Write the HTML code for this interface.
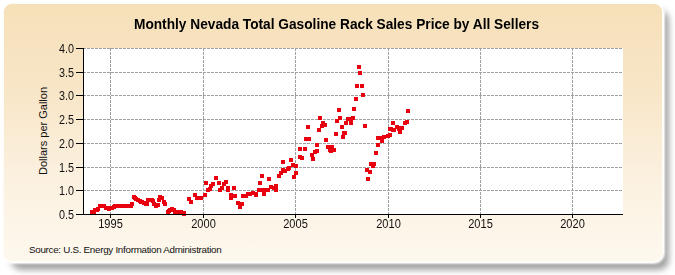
<!DOCTYPE html>
<html><head><meta charset="utf-8"><style>
html,body{margin:0;padding:0;background:#fff;width:675px;height:275px;overflow:hidden;position:relative;font-family:"Liberation Sans",sans-serif}
#shadow{position:absolute;left:11px;top:10px;width:658px;height:260px;border-radius:10px;background:rgba(0,0,0,0.36);filter:blur(3.2px)}
#panel{position:absolute;left:2px;top:2px;width:658px;height:257px;border-radius:10px;border:2px solid #FEFDF9;box-shadow:0 0 2px 1px rgba(255,255,255,0.85);
 background:linear-gradient(to bottom,#F6E0B8 0%,#F8E6C8 35%,#FBF0DE 65%,#FDF8EE 100%);}
#title{position:absolute;left:-1px;width:675px;top:15px;text-align:center;font-weight:bold;font-size:15.2px;transform:scaleX(0.902);color:#000;white-space:nowrap}
svg{position:absolute;left:0;top:0}
.g{stroke:#A0A0A0;stroke-width:1;stroke-dasharray:3 1}
.a{stroke:#000;stroke-width:1}
.yl{position:absolute;left:40px;width:34px;text-align:right;font-size:12px;color:#111;line-height:14px;transform:scaleX(0.9);transform-origin:100% 50%}
.xl{position:absolute;top:217px;width:41px;text-align:center;font-size:12px;color:#111;line-height:14px;transform:scaleX(0.92)}
#ylab{position:absolute;left:0;top:0;font-size:11px;color:#111;white-space:nowrap;transform-origin:0 0;}
#src{position:absolute;left:29px;top:243.5px;font-size:9.8px;color:#111;white-space:nowrap;letter-spacing:-0.28px}
</style></head><body>
<div id="shadow"></div><div id="panel"></div>
<div id="title">Monthly Nevada Total Gasoline Rack Sales Price by All Sellers</div>
<svg width="675" height="275" shape-rendering="crispEdges">
<rect x="84" y="48" width="539" height="166" fill="#fff"/>
<line x1="84" y1="48.5" x2="623" y2="48.5" class="g" stroke-dashoffset="1"/><line x1="84" y1="72.5" x2="623" y2="72.5" class="g" stroke-dashoffset="1"/><line x1="84" y1="95.5" x2="623" y2="95.5" class="g" stroke-dashoffset="1"/><line x1="84" y1="119.5" x2="623" y2="119.5" class="g" stroke-dashoffset="1"/><line x1="84" y1="143.5" x2="623" y2="143.5" class="g" stroke-dashoffset="1"/><line x1="84" y1="167.5" x2="623" y2="167.5" class="g" stroke-dashoffset="1"/><line x1="84" y1="190.5" x2="623" y2="190.5" class="g" stroke-dashoffset="1"/><line x1="110.5" y1="48" x2="110.5" y2="214" class="g"/><line x1="203.5" y1="48" x2="203.5" y2="214" class="g"/><line x1="295.5" y1="48" x2="295.5" y2="214" class="g"/><line x1="388.5" y1="48" x2="388.5" y2="214" class="g"/><line x1="480.5" y1="48" x2="480.5" y2="214" class="g"/><line x1="572.5" y1="48" x2="572.5" y2="214" class="g"/>
<g fill="#E8000E"><rect x="90" y="210" width="4" height="4"/><rect x="92" y="210" width="4" height="4"/><rect x="93" y="208" width="4" height="4"/><rect x="95" y="208" width="4" height="4"/><rect x="96" y="207" width="4" height="4"/><rect x="98" y="204" width="4" height="4"/><rect x="99" y="204" width="4" height="4"/><rect x="101" y="204" width="4" height="4"/><rect x="102" y="204" width="4" height="4"/><rect x="104" y="206" width="4" height="4"/><rect x="106" y="206" width="4" height="4"/><rect x="107" y="207" width="4" height="4"/><rect x="109" y="206" width="4" height="4"/><rect x="110" y="206" width="4" height="4"/><rect x="112" y="205" width="4" height="4"/><rect x="113" y="204" width="4" height="4"/><rect x="115" y="204" width="4" height="4"/><rect x="116" y="204" width="4" height="4"/><rect x="118" y="204" width="4" height="4"/><rect x="119" y="204" width="4" height="4"/><rect x="121" y="204" width="4" height="4"/><rect x="122" y="204" width="4" height="4"/><rect x="124" y="204" width="4" height="4"/><rect x="126" y="204" width="4" height="4"/><rect x="127" y="204" width="4" height="4"/><rect x="129" y="204" width="4" height="4"/><rect x="130" y="202" width="4" height="4"/><rect x="132" y="195" width="4" height="4"/><rect x="133" y="196" width="4" height="4"/><rect x="134" y="197" width="4" height="4"/><rect x="136" y="198" width="4" height="4"/><rect x="138" y="199" width="4" height="4"/><rect x="139" y="200" width="4" height="4"/><rect x="140" y="200" width="4" height="4"/><rect x="142" y="201" width="4" height="4"/><rect x="144" y="202" width="4" height="4"/><rect x="145" y="202" width="4" height="4"/><rect x="146" y="198" width="4" height="4"/><rect x="148" y="198" width="4" height="4"/><rect x="150" y="198" width="4" height="4"/><rect x="151" y="199" width="4" height="4"/><rect x="152" y="202" width="4" height="4"/><rect x="154" y="204" width="4" height="4"/><rect x="156" y="203" width="4" height="4"/><rect x="157" y="198" width="4" height="4"/><rect x="158" y="195" width="4" height="4"/><rect x="160" y="196" width="4" height="4"/><rect x="162" y="200" width="4" height="4"/><rect x="163" y="202" width="4" height="4"/><rect x="166" y="210" width="4" height="4"/><rect x="167" y="209" width="4" height="4"/><rect x="168" y="208" width="4" height="4"/><rect x="170" y="207" width="4" height="4"/><rect x="172" y="208" width="4" height="4"/><rect x="173" y="210" width="4" height="4"/><rect x="174" y="210" width="4" height="4"/><rect x="176" y="210" width="4" height="4"/><rect x="178" y="210" width="4" height="4"/><rect x="179" y="210" width="4" height="4"/><rect x="180" y="211" width="4" height="4"/><rect x="182" y="211" width="4" height="4"/><rect x="182" y="212" width="4" height="4"/><rect x="187" y="197" width="4" height="4"/><rect x="189" y="200" width="4" height="4"/><rect x="193" y="193" width="4" height="4"/><rect x="195" y="196" width="4" height="4"/><rect x="197" y="196" width="4" height="4"/><rect x="199" y="196" width="4" height="4"/><rect x="203" y="193" width="4" height="4"/><rect x="204" y="181" width="4" height="4"/><rect x="206" y="188" width="4" height="4"/><rect x="208" y="187" width="4" height="4"/><rect x="209" y="184" width="4" height="4"/><rect x="211" y="182" width="4" height="4"/><rect x="214" y="176" width="4" height="4"/><rect x="217" y="181" width="4" height="4"/><rect x="218" y="188" width="4" height="4"/><rect x="220" y="186" width="4" height="4"/><rect x="222" y="182" width="4" height="4"/><rect x="224" y="180" width="4" height="4"/><rect x="226" y="186" width="4" height="4"/><rect x="226" y="188" width="4" height="4"/><rect x="229" y="193" width="4" height="4"/><rect x="229" y="196" width="4" height="4"/><rect x="232" y="186" width="4" height="4"/><rect x="233" y="194" width="4" height="4"/><rect x="236" y="201" width="4" height="4"/><rect x="238" y="205" width="4" height="4"/><rect x="240" y="202" width="4" height="4"/><rect x="241" y="194" width="4" height="4"/><rect x="244" y="194" width="4" height="4"/><rect x="246" y="192" width="4" height="4"/><rect x="248" y="192" width="4" height="4"/><rect x="251" y="191" width="4" height="4"/><rect x="254" y="193" width="4" height="4"/><rect x="254" y="192" width="4" height="4"/><rect x="257" y="188" width="4" height="4"/><rect x="259" y="188" width="4" height="4"/><rect x="262" y="188" width="4" height="4"/><rect x="264" y="188" width="4" height="4"/><rect x="266" y="188" width="4" height="4"/><rect x="262" y="192" width="4" height="4"/><rect x="258" y="181" width="4" height="4"/><rect x="260" y="174" width="4" height="4"/><rect x="267" y="177" width="4" height="4"/><rect x="269" y="185" width="4" height="4"/><rect x="272" y="186" width="4" height="4"/><rect x="274" y="184" width="4" height="4"/><rect x="274" y="188" width="4" height="4"/><rect x="277" y="174" width="4" height="4"/><rect x="279" y="171" width="4" height="4"/><rect x="281" y="168" width="4" height="4"/><rect x="283" y="169" width="4" height="4"/><rect x="286" y="167" width="4" height="4"/><rect x="287" y="166" width="4" height="4"/><rect x="281" y="160" width="4" height="4"/><rect x="289" y="158" width="4" height="4"/><rect x="291" y="163" width="4" height="4"/><rect x="294" y="164" width="4" height="4"/><rect x="298" y="155" width="4" height="4"/><rect x="300" y="156" width="4" height="4"/><rect x="294" y="171" width="4" height="4"/><rect x="292" y="175" width="4" height="4"/><rect x="298" y="147" width="4" height="4"/><rect x="303" y="147" width="4" height="4"/><rect x="304" y="137" width="4" height="4"/><rect x="307" y="137" width="4" height="4"/><rect x="306" y="125" width="4" height="4"/><rect x="310" y="153" width="4" height="4"/><rect x="311" y="157" width="4" height="4"/><rect x="313" y="150" width="4" height="4"/><rect x="315" y="149" width="4" height="4"/><rect x="315" y="143" width="4" height="4"/><rect x="318" y="116" width="4" height="4"/><rect x="321" y="121" width="4" height="4"/><rect x="323" y="123" width="4" height="4"/><rect x="320" y="124" width="4" height="4"/><rect x="317" y="128" width="4" height="4"/><rect x="324" y="138" width="4" height="4"/><rect x="326" y="145" width="4" height="4"/><rect x="328" y="148" width="4" height="4"/><rect x="330" y="145" width="4" height="4"/><rect x="332" y="148" width="4" height="4"/><rect x="329" y="149" width="4" height="4"/><rect x="334" y="132" width="4" height="4"/><rect x="341" y="135" width="4" height="4"/><rect x="343" y="131" width="4" height="4"/><rect x="337" y="108" width="4" height="4"/><rect x="338" y="116" width="4" height="4"/><rect x="335" y="119" width="4" height="4"/><rect x="340" y="125" width="4" height="4"/><rect x="334" y="132" width="4" height="4"/><rect x="342" y="131" width="4" height="4"/><rect x="344" y="121" width="4" height="4"/><rect x="346" y="117" width="4" height="4"/><rect x="346" y="117" width="4" height="4"/><rect x="349" y="117" width="4" height="4"/><rect x="351" y="116" width="4" height="4"/><rect x="344" y="121" width="4" height="4"/><rect x="349" y="121" width="4" height="4"/><rect x="352" y="107" width="4" height="4"/><rect x="354" y="97" width="4" height="4"/><rect x="361" y="93" width="4" height="4"/><rect x="355" y="84" width="4" height="4"/><rect x="360" y="84" width="4" height="4"/><rect x="357" y="65" width="4" height="4"/><rect x="358" y="71" width="4" height="4"/><rect x="363" y="124" width="4" height="4"/><rect x="365" y="168" width="4" height="4"/><rect x="368" y="170" width="4" height="4"/><rect x="366" y="177" width="4" height="4"/><rect x="369" y="162" width="4" height="4"/><rect x="372" y="162" width="4" height="4"/><rect x="371" y="164" width="4" height="4"/><rect x="374" y="151" width="4" height="4"/><rect x="376" y="143" width="4" height="4"/><rect x="376" y="136" width="4" height="4"/><rect x="378" y="136" width="4" height="4"/><rect x="380" y="136" width="4" height="4"/><rect x="382" y="135" width="4" height="4"/><rect x="380" y="139" width="4" height="4"/><rect x="386" y="134" width="4" height="4"/><rect x="388" y="133" width="4" height="4"/><rect x="389" y="127" width="4" height="4"/><rect x="391" y="128" width="4" height="4"/><rect x="391" y="121" width="4" height="4"/><rect x="388" y="127" width="4" height="4"/><rect x="392" y="128" width="4" height="4"/><rect x="395" y="125" width="4" height="4"/><rect x="397" y="127" width="4" height="4"/><rect x="399" y="126" width="4" height="4"/><rect x="398" y="130" width="4" height="4"/><rect x="400" y="126" width="4" height="4"/><rect x="403" y="121" width="4" height="4"/><rect x="405" y="120" width="4" height="4"/><rect x="406" y="109" width="4" height="4"/></g>
<line x1="83.5" y1="48" x2="83.5" y2="214.5" class="a"/>
<line x1="83" y1="214.5" x2="623" y2="214.5" class="a"/>
<line x1="76" y1="48.5" x2="83" y2="48.5" class="a"/><line x1="76" y1="72.5" x2="83" y2="72.5" class="a"/><line x1="76" y1="95.5" x2="83" y2="95.5" class="a"/><line x1="76" y1="119.5" x2="83" y2="119.5" class="a"/><line x1="76" y1="143.5" x2="83" y2="143.5" class="a"/><line x1="76" y1="167.5" x2="83" y2="167.5" class="a"/><line x1="76" y1="190.5" x2="83" y2="190.5" class="a"/><line x1="76" y1="214.5" x2="83" y2="214.5" class="a"/><line x1="110.5" y1="214" x2="110.5" y2="218" class="a"/><line x1="203.5" y1="214" x2="203.5" y2="218" class="a"/><line x1="295.5" y1="214" x2="295.5" y2="218" class="a"/><line x1="388.5" y1="214" x2="388.5" y2="218" class="a"/><line x1="480.5" y1="214" x2="480.5" y2="218" class="a"/><line x1="572.5" y1="214" x2="572.5" y2="218" class="a"/>
</svg>
<div class="yl" style="top:42px">4.0</div><div class="yl" style="top:66px">3.5</div><div class="yl" style="top:89px">3.0</div><div class="yl" style="top:113px">2.5</div><div class="yl" style="top:137px">2.0</div><div class="yl" style="top:161px">1.5</div><div class="yl" style="top:184px">1.0</div><div class="yl" style="top:208px">0.5</div>
<div class="xl" style="left:90px">1995</div><div class="xl" style="left:183px">2000</div><div class="xl" style="left:275px">2005</div><div class="xl" style="left:368px">2010</div><div class="xl" style="left:460px">2015</div><div class="xl" style="left:552px">2020</div>
<div id="ylab" style="transform:translate(37px,175px) rotate(-90deg)">Dollars per Gallon</div>
<div id="src">Source: U.S. Energy Information Administration</div>
</body></html>
